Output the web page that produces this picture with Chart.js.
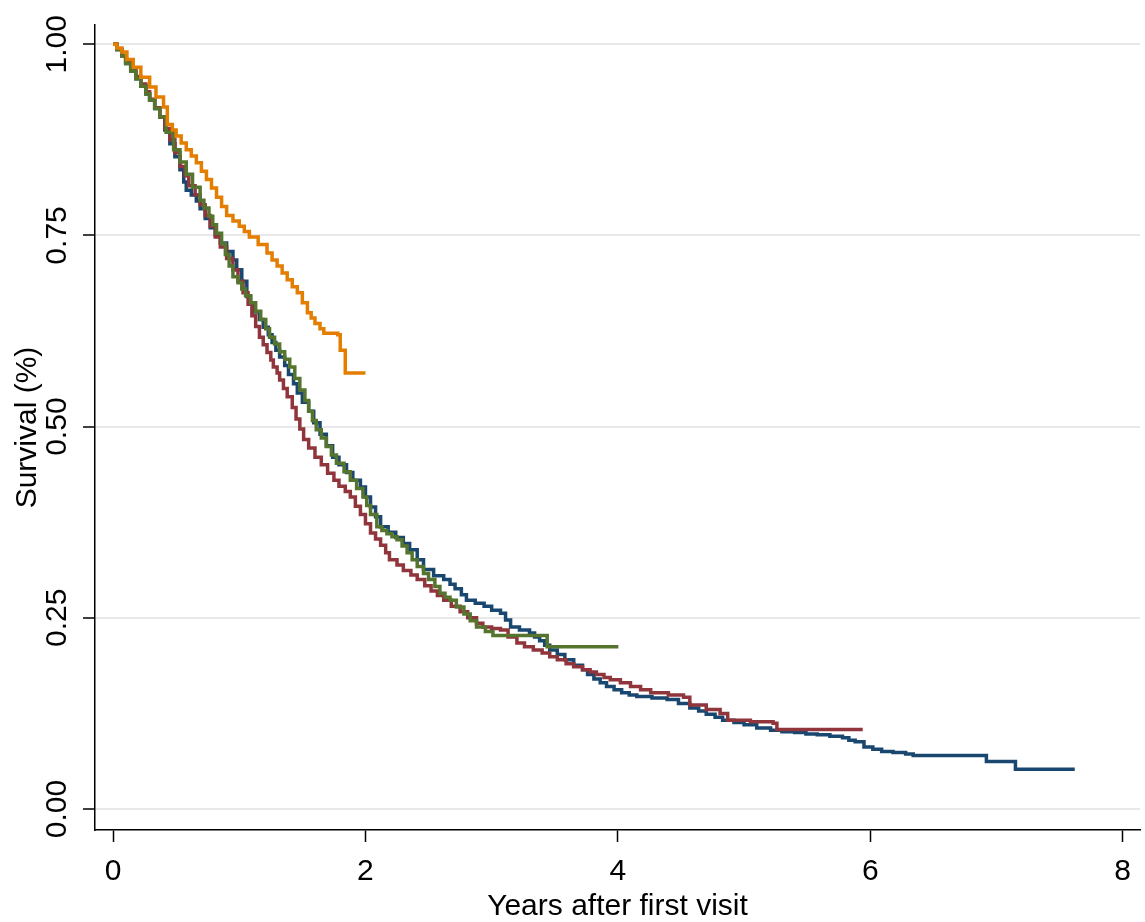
<!DOCTYPE html>
<html>
<head>
<meta charset="utf-8">
<script src="https://cdn.jsdelivr.net/npm/chart.js@4/dist/chart.umd.min.js"></script>
<style>
  html, body { margin: 0; padding: 0; background: #fff; }
  #wrap { width: 1145px; height: 922px; }
</style>
</head>
<body>
<div id="wrap"><canvas id="survie" width="1145" height="922"></canvas></div>
<script>
"use strict";

// Kaplan-Meier curves (years, survival)
var navyT = [0, 0.03, 0.07, 0.10, 0.14, 0.18, 0.22, 0.26, 0.29, 0.33, 0.37, 0.41, 0.45, 0.49, 0.53, 0.56, 0.58, 0.62, 0.66, 0.69, 0.73, 0.77, 0.81, 0.85, 0.90, 0.95, 0.98, 1.02, 1.06, 1.09, 1.12, 1.16, 1.19, 1.23, 1.26, 1.29, 1.32, 1.36, 1.39, 1.43, 1.46, 1.50, 1.55, 1.59, 1.64, 1.69, 1.74, 1.79, 1.85, 1.90, 1.96, 2.00, 2.04, 2.08, 2.12, 2.18, 2.24, 2.30, 2.35, 2.41, 2.46, 2.54, 2.62, 2.67, 2.71, 2.76, 2.80, 2.87, 2.94, 3.00, 3.07, 3.11, 3.15, 3.22, 3.30, 3.34, 3.38, 3.42, 3.46, 3.52, 3.58, 3.65, 3.72, 3.76, 3.81, 3.86, 3.91, 3.97, 4.03, 4.09, 4.15, 4.27, 4.39, 4.48, 4.57, 4.64, 4.70, 4.77, 4.83, 4.92, 5.00, 5.10, 5.21, 5.30, 5.40, 5.49, 5.58, 5.68, 5.78, 5.83, 5.88, 5.95, 6.02, 6.09, 6.18, 6.28, 6.34, 6.92, 7.15, 7.62];
var navyS = [1, 0.993, 0.985, 0.975, 0.965, 0.955, 0.945, 0.935, 0.927, 0.916, 0.905, 0.888, 0.87, 0.853, 0.836, 0.82, 0.809, 0.803, 0.795, 0.785, 0.772, 0.76, 0.75, 0.74, 0.729, 0.718, 0.705, 0.69, 0.67, 0.66, 0.65, 0.64, 0.63, 0.62, 0.61, 0.60, 0.591, 0.58, 0.568, 0.556, 0.544, 0.532, 0.52, 0.505, 0.49, 0.475, 0.46, 0.45, 0.44, 0.43, 0.421, 0.408, 0.395, 0.382, 0.369, 0.362, 0.355, 0.347, 0.339, 0.326, 0.313, 0.305, 0.30, 0.294, 0.288, 0.28, 0.273, 0.269, 0.265, 0.26, 0.256, 0.247, 0.238, 0.234, 0.230, 0.225, 0.22, 0.214, 0.208, 0.202, 0.195, 0.188, 0.182, 0.176, 0.17, 0.165, 0.160, 0.156, 0.152, 0.149, 0.147, 0.145, 0.143, 0.138, 0.132, 0.128, 0.124, 0.12, 0.116, 0.113, 0.11, 0.106, 0.103, 0.101, 0.10, 0.098, 0.097, 0.095, 0.093, 0.09, 0.088, 0.081, 0.078, 0.075, 0.074, 0.072, 0.070, 0.062, 0.052, 0.052];

var maroonT = [0, 0.03, 0.07, 0.10, 0.14, 0.18, 0.22, 0.26, 0.29, 0.33, 0.37, 0.41, 0.45, 0.49, 0.53, 0.57, 0.60, 0.65, 0.69, 0.73, 0.77, 0.81, 0.85, 0.90, 0.95, 0.99, 1.03, 1.07, 1.10, 1.13, 1.16, 1.19, 1.22, 1.25, 1.27, 1.30, 1.32, 1.35, 1.38, 1.42, 1.45, 1.48, 1.51, 1.55, 1.60, 1.65, 1.70, 1.75, 1.79, 1.84, 1.88, 1.92, 1.96, 2.00, 2.04, 2.08, 2.12, 2.16, 2.19, 2.25, 2.30, 2.36, 2.41, 2.47, 2.52, 2.57, 2.62, 2.68, 2.75, 2.81, 2.88, 2.93, 3.00, 3.07, 3.13, 3.20, 3.26, 3.33, 3.40, 3.46, 3.52, 3.59, 3.65, 3.72, 3.78, 3.83, 3.89, 3.94, 4.02, 4.10, 4.18, 4.26, 4.40, 4.52, 4.57, 4.70, 4.81, 4.87, 5.05, 5.23, 5.26, 5.94];
var maroonS = [1, 0.993, 0.985, 0.977, 0.968, 0.958, 0.948, 0.938, 0.928, 0.917, 0.905, 0.89, 0.875, 0.858, 0.84, 0.828, 0.815, 0.803, 0.79, 0.776, 0.762, 0.748, 0.735, 0.72, 0.705, 0.69, 0.675, 0.66, 0.645, 0.631, 0.617, 0.607, 0.597, 0.587, 0.578, 0.57, 0.561, 0.55, 0.539, 0.525, 0.51, 0.497, 0.483, 0.472, 0.46, 0.45, 0.439, 0.43, 0.422, 0.415, 0.408, 0.396, 0.385, 0.373, 0.361, 0.353, 0.345, 0.335, 0.326, 0.319, 0.312, 0.306, 0.30, 0.292, 0.285, 0.279, 0.273, 0.265, 0.258, 0.25, 0.243, 0.238, 0.236, 0.234, 0.225, 0.217, 0.212, 0.208, 0.204, 0.199, 0.195, 0.19, 0.186, 0.182, 0.179, 0.176, 0.172, 0.169, 0.165, 0.16, 0.156, 0.152, 0.149, 0.146, 0.136, 0.13, 0.125, 0.116, 0.114, 0.112, 0.104, 0.104];

var vertT = [0, 0.03, 0.07, 0.10, 0.14, 0.18, 0.22, 0.26, 0.29, 0.33, 0.37, 0.42, 0.48, 0.53, 0.58, 0.63, 0.69, 0.72, 0.76, 0.79, 0.82, 0.86, 0.89, 0.92, 0.95, 0.99, 1.02, 1.05, 1.09, 1.13, 1.17, 1.21, 1.24, 1.28, 1.32, 1.36, 1.40, 1.44, 1.48, 1.52, 1.55, 1.58, 1.61, 1.65, 1.69, 1.73, 1.77, 1.83, 1.88, 1.93, 1.98, 2.01, 2.04, 2.09, 2.13, 2.17, 2.21, 2.25, 2.29, 2.33, 2.37, 2.41, 2.46, 2.50, 2.55, 2.59, 2.63, 2.67, 2.72, 2.78, 2.83, 2.88, 2.95, 3.01, 3.44, 3.99];
var vertS = [1, 0.993, 0.985, 0.975, 0.965, 0.955, 0.945, 0.935, 0.927, 0.916, 0.905, 0.885, 0.862, 0.846, 0.83, 0.813, 0.796, 0.786, 0.775, 0.764, 0.753, 0.739, 0.725, 0.71, 0.696, 0.688, 0.68, 0.671, 0.662, 0.651, 0.64, 0.628, 0.617, 0.608, 0.598, 0.588, 0.578, 0.563, 0.548, 0.534, 0.52, 0.508, 0.496, 0.485, 0.474, 0.463, 0.452, 0.441, 0.43, 0.419, 0.408, 0.397, 0.385, 0.369, 0.364, 0.36, 0.356, 0.352, 0.344, 0.335, 0.326, 0.317, 0.308, 0.30, 0.291, 0.282, 0.277, 0.273, 0.264, 0.255, 0.246, 0.238, 0.232, 0.227, 0.212, 0.210];

var orangeT = [0, 0.03, 0.07, 0.11, 0.16, 0.22, 0.29, 0.34, 0.40, 0.43, 0.47, 0.50, 0.54, 0.58, 0.62, 0.66, 0.70, 0.74, 0.78, 0.82, 0.86, 0.90, 0.95, 1.00, 1.04, 1.08, 1.15, 1.22, 1.26, 1.30, 1.34, 1.38, 1.42, 1.46, 1.50, 1.54, 1.57, 1.60, 1.64, 1.67, 1.78, 1.80, 1.84, 2.00];
var orangeS = [1, 0.995, 0.99, 0.98, 0.97, 0.957, 0.944, 0.931, 0.918, 0.895, 0.888, 0.88, 0.871, 0.862, 0.854, 0.845, 0.834, 0.823, 0.812, 0.80, 0.788, 0.776, 0.769, 0.762, 0.755, 0.748, 0.738, 0.727, 0.718, 0.71, 0.701, 0.692, 0.683, 0.675, 0.662, 0.649, 0.642, 0.635, 0.628, 0.622, 0.620, 0.60, 0.570, 0.570];

var xTicks = [0, 2, 4, 6, 8];
var yTicks = [0, 0.25, 0.5, 0.75, 1];

function points(t, s) {
    var pts = [];
    for (var i = 0; i < t.length && i < s.length; i++) {
        pts.push({x: t[i], y: s[i]});
    }
    return pts;
}

function courbe(label, t, s, couleur, ordre) {
    return {
        label: label,
        data: points(t, s),
        borderColor: couleur,
        backgroundColor: couleur,
        borderWidth: 3.5,
        pointRadius: 0,
        stepped: true,
        fill: false,
        order: ordre
    };
}

var police = "'Liberation Sans', Arial, sans-serif";

new Chart(document.getElementById("survie").getContext("2d"), {
    type: 'line',
    data: {
        datasets: [
            courbe("navy", navyT, navyS, 'rgb(26, 71, 111)', 4),
            courbe("maroon", maroonT, maroonS, 'rgb(144, 53, 59)', 3),
            courbe("vert", vertT, vertS, 'rgb(85, 117, 47)', 2),
            courbe("orange", orangeT, orangeS, 'rgb(227, 126, 0)', 1)
        ]
    },
    options: {
        responsive: false,
        animation: false,
        layout: { padding: { top: 25, right: 5, left: 0, bottom: 0 } },
        plugins: {
            legend: { display: false },
            tooltip: { enabled: false }
        },
        scales: {
            x: {
                type: 'linear',
                min: -0.143,
                max: 8.137,
                afterBuildTicks: function (axis) {
                    axis.ticks = xTicks.map(function (v) { return {value: v}; });
                },
                afterFit: function (axis) { axis.height = 92; },
                border: { color: '#000', width: 1.5 },
                grid: { drawOnChartArea: false, tickColor: '#000', tickWidth: 1.5, tickLength: 12 },
                ticks: {
                    color: '#000',
                    padding: 12,
                    maxRotation: 0,
                    font: { family: police, size: 30 },
                    callback: function (v) { return String(v); }
                },
                title: {
                    display: true,
                    text: 'Years after first visit',
                    color: '#000',
                    padding: { top: 0, bottom: 0 },
                    font: { family: police, size: 30, lineHeight: 1 }
                }
            },
            y: {
                type: 'linear',
                min: -0.0275,
                max: 1.0252,
                afterBuildTicks: function (axis) {
                    axis.ticks = yTicks.map(function (v) { return {value: v}; });
                },
                afterFit: function (axis) { axis.width = 95; },
                border: { color: '#000', width: 1.5 },
                grid: { color: '#e8e8e8', lineWidth: 2, tickColor: '#000', tickWidth: 1.5, tickLength: 12 },
                ticks: {
                    color: '#000',
                    padding: -4,
                    minRotation: 90,
                    maxRotation: 90,
                    crossAlign: 'center',
                    font: { family: police, size: 30 },
                    callback: function (v) { return Number(v).toFixed(2); }
                },
                title: {
                    display: true,
                    text: 'Survival (%)',
                    color: '#000',
                    padding: { top: 10, bottom: 0 },
                    font: { family: police, size: 30, lineHeight: 1.2 }
                }
            }
        }
    }
});
</script>
</body>
</html>
